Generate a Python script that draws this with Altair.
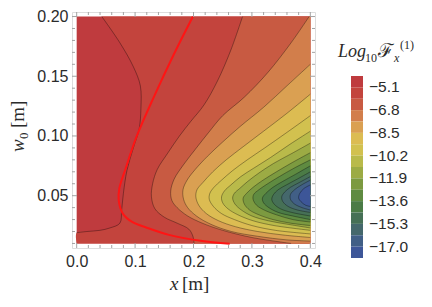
import altair as alt
import pandas as pd

# ---------------- data ----------------
levels = [-5.1, -5.95, -6.8, -7.65, -8.5, -9.35, -10.2, -11.05, -11.9,
          -12.75, -13.6, -14.45, -15.3, -16.15, -17.0]
band_top = -4.25
band_bottom = -17.85
band_colors = ["#bf3b3e", "#c3443d", "#c85a42", "#d27e4b", "#daa052", "#dcbc52",
               "#d2c14f", "#b9ba4a", "#9cab44", "#7c9a40", "#5f8b41", "#4b7b46",
               "#467056", "#45686c", "#415f86", "#3d5698"]
legend_values = [-5.1, -6.8, -8.5, -10.2, -11.9, -13.6, -15.3, -17.0]

x_ticks = [0.0, 0.1, 0.2, 0.3, 0.4]
y_ticks = [0.05, 0.10, 0.15, 0.20]
x_minor = [0.02, 0.04, 0.06, 0.08, 0.12, 0.14, 0.16, 0.18, 0.22, 0.24, 0.26,
           0.28, 0.32, 0.34, 0.36, 0.38]
y_minor = [0.01, 0.02, 0.03, 0.04, 0.06, 0.07, 0.08, 0.09, 0.11, 0.12, 0.13,
           0.14, 0.16, 0.17, 0.18, 0.19]
x_range = [0.0, 0.4]
w0_range = [0.01, 0.2]

c1_x = [0.043, 0.074, 0.097, 0.109, 0.110, 0.107, 0.097, 0.086, 0.080, 0.077, 0.074, 0.057, 0.040, 0.017, 0.000]
c1_w = [0.200, 0.178, 0.158, 0.142, 0.123, 0.106, 0.090, 0.071, 0.052, 0.038, 0.027, 0.023, 0.021, 0.020, 0.019]
c2_x = [0.284, 0.264, 0.241, 0.218, 0.195, 0.176, 0.155, 0.138, 0.130, 0.128, 0.134, 0.150, 0.172, 0.192, 0.199, 0.201]
c2_w = [0.200, 0.172, 0.146, 0.126, 0.112, 0.100, 0.085, 0.072, 0.060, 0.049, 0.039, 0.032, 0.027, 0.022, 0.016, 0.010]
c3_x = [0.398, 0.367, 0.327, 0.287, 0.250, 0.226, 0.205, 0.183, 0.167, 0.161, 0.163, 0.172, 0.190, 0.215, 0.250, 0.300, 0.367]
c3_w = [0.200, 0.178, 0.153, 0.1325, 0.117, 0.103, 0.090, 0.076, 0.064, 0.054, 0.046, 0.040, 0.033, 0.027, 0.021, 0.015, 0.010]
c4_x = [0.400, 0.360, 0.320, 0.280, 0.250, 0.224, 0.203, 0.189, 0.182, 0.183, 0.190, 0.205, 0.230, 0.265, 0.310, 0.360, 0.400]
c4_w = [0.160, 0.142, 0.124, 0.108, 0.095, 0.083, 0.072, 0.063, 0.055, 0.047, 0.040, 0.033, 0.026, 0.020, 0.016, 0.013, 0.012]
c5_x = [0.400, 0.360, 0.320, 0.285, 0.256, 0.233, 0.216, 0.206, 0.204, 0.209, 0.222, 0.243, 0.272, 0.310, 0.355, 0.400]
c5_w = [0.135, 0.119, 0.104, 0.091, 0.080, 0.070, 0.061, 0.055, 0.049, 0.042, 0.035, 0.029, 0.024, 0.020, 0.017, 0.015]
c6_x = [0.400, 0.360, 0.322, 0.292, 0.267, 0.248, 0.235, 0.228, 0.227, 0.234, 0.248, 0.270, 0.300, 0.340, 0.400]
c6_w = [0.117, 0.103, 0.090, 0.080, 0.071, 0.063, 0.057, 0.052, 0.047, 0.041, 0.035, 0.030, 0.025, 0.021, 0.018]
c7_x = [0.400, 0.365, 0.332, 0.303, 0.281, 0.264, 0.253, 0.248, 0.250, 0.259, 0.276, 0.302, 0.338, 0.400]
c7_w = [0.104, 0.093, 0.082, 0.073, 0.066, 0.059, 0.054, 0.049, 0.044, 0.039, 0.034, 0.029, 0.025, 0.021]
c8_x = [0.400, 0.367, 0.337, 0.312, 0.293, 0.279, 0.270, 0.267, 0.271, 0.282, 0.300, 0.328, 0.362, 0.400]
c8_w = [0.094, 0.085, 0.077, 0.069, 0.062, 0.056, 0.052, 0.048, 0.043, 0.038, 0.033, 0.029, 0.026, 0.023]
c9_x = [0.400, 0.370, 0.342, 0.319, 0.302, 0.291, 0.285, 0.287, 0.296, 0.312, 0.336, 0.366, 0.400]
c9_w = [0.086, 0.078, 0.070, 0.063, 0.057, 0.052, 0.048, 0.043, 0.038, 0.034, 0.030, 0.027, 0.025]
c10_x = [0.400, 0.372, 0.347, 0.327, 0.312, 0.303, 0.302, 0.308, 0.321, 0.342, 0.370, 0.400]
c10_w = [0.080, 0.073, 0.066, 0.060, 0.055, 0.051, 0.047, 0.042, 0.038, 0.034, 0.030, 0.028]
c11_x = [0.400, 0.375, 0.353, 0.336, 0.324, 0.318, 0.320, 0.329, 0.345, 0.370, 0.400]
c11_w = [0.075, 0.068, 0.062, 0.057, 0.052, 0.048, 0.044, 0.040, 0.036, 0.033, 0.030]
c12_x = [0.400, 0.378, 0.359, 0.345, 0.337, 0.334, 0.338, 0.349, 0.368, 0.400]
c12_w = [0.070, 0.064, 0.059, 0.055, 0.051, 0.047, 0.043, 0.039, 0.036, 0.033]
c13_x = [0.400, 0.381, 0.366, 0.356, 0.351, 0.353, 0.362, 0.378, 0.400]
c13_w = [0.066, 0.061, 0.057, 0.053, 0.049, 0.045, 0.041, 0.038, 0.036]
c14_x = [0.400, 0.385, 0.373, 0.366, 0.366, 0.373, 0.386, 0.400]
c14_w = [0.063, 0.059, 0.055, 0.051, 0.047, 0.043, 0.040, 0.038]
c15_x = [0.400, 0.389, 0.382, 0.380, 0.384, 0.392, 0.400]
c15_w = [0.059, 0.056, 0.052, 0.048, 0.045, 0.042, 0.041]

red_x = [0.199, 0.166, 0.132, 0.103, 0.084, 0.073, 0.072, 0.079, 0.095, 0.120, 0.158, 0.212, 0.262]
red_w = [0.200, 0.168, 0.1325, 0.100, 0.073, 0.056, 0.046, 0.035, 0.028, 0.0232, 0.0172, 0.0123, 0.0097]

contours_x = [c1_x, c2_x, c3_x, c4_x, c5_x, c6_x, c7_x, c8_x, c9_x, c10_x,
              c11_x, c12_x, c13_x, c14_x, c15_x]
contours_w = [c1_w, c2_w, c3_w, c4_w, c5_w, c6_w, c7_w, c8_w, c9_w, c10_w,
              c11_w, c12_w, c13_w, c14_w, c15_w]

# ---------------- layout / style ----------------
W, H = 243, 236
FRAME = "#a3a3a3"
LABEL = "#2b2b2b"
SERIF = "Liberation Serif"
SANS = "Liberation Sans"

xs = alt.Scale(domain=[-0.008, 0.408], nice=False, zero=False)
ys = alt.Scale(domain=[0.0062, 0.2038], nice=False, zero=False)
x_axis = alt.Axis(values=x_ticks, format=".1f", title=None, domain=False, ticks=False,
                  grid=False, labelPadding=5, labelFontSize=16, labelFont=SANS,
                  labelColor=LABEL)
y_axis = alt.Axis(values=y_ticks, format=".2f", title=None, domain=False, ticks=False,
                  grid=False, labelPadding=4, labelFontSize=16, labelFont=SANS,
                  labelColor=LABEL)


def X(f):
    return alt.X(f, scale=xs, axis=x_axis)


def Y(f):
    return alt.Y(f, scale=ys, axis=y_axis)


layers = []

# base band (highest values)
base_df = pd.DataFrame({"x": [x_range[0]], "x2": [x_range[1]],
                        "w": [w0_range[0]], "w2": [w0_range[1]]})
layers.append(alt.Chart(base_df).mark_rect(color=band_colors[0]).encode(
    x=X("x:Q"), x2="x2:Q", y=Y("w:Q"), y2="w2:Q"))

# filled bands: region to the right of each contour
line_rows = []
for k in range(len(levels)):
    xk = list(contours_x[k])
    wk = list(contours_w[k])
    for a, b in zip(xk, wk):
        line_rows.append({"x": a, "w": b, "level": levels[k]})
    if k == 0:
        xk = xk + [x_range[0]]
        wk = wk + [w0_range[0]]
    df = pd.DataFrame({"x": xk, "w": wk, "xr": [x_range[1]] * len(xk)})
    layers.append(alt.Chart(df).mark_area(
        orient="horizontal", interpolate="catmull-rom", color=band_colors[k + 1]
    ).encode(x=X("x:Q"), x2="xr:Q", y=Y("w:Q")))

# contour lines
lines_df = pd.DataFrame(line_rows)
layers.append(alt.Chart(lines_df).mark_line(
    interpolate="catmull-rom", color="#000000", opacity=0.42, strokeWidth=0.8
).encode(x=X("x:Q"), y=Y("w:Q"), detail="level:N", order=alt.Order("w:Q")))

# red curve
red_df = pd.DataFrame({"x": red_x, "w": red_w})
layers.append(alt.Chart(red_df).mark_line(
    interpolate="catmull-rom", color="#ff1414", strokeWidth=2
).encode(x=X("x:Q"), y=Y("w:Q"), order=alt.Order("w:Q")))


# frame ticks (inward, on all four sides)
def xticks(vals, length):
    df = pd.DataFrame({"t": vals})
    bot = alt.Chart(df).mark_rule(color=FRAME, strokeWidth=1).encode(
        x=X("t:Q"), y=alt.value(H), y2=alt.value(H - length))
    top = alt.Chart(df).mark_rule(color=FRAME, strokeWidth=1).encode(
        x=X("t:Q"), y=alt.value(0), y2=alt.value(length))
    return [bot, top]


def yticks(vals, length):
    df = pd.DataFrame({"t": vals})
    left = alt.Chart(df).mark_rule(color=FRAME, strokeWidth=1).encode(
        y=Y("t:Q"), x=alt.value(0), x2=alt.value(length))
    right = alt.Chart(df).mark_rule(color=FRAME, strokeWidth=1).encode(
        y=Y("t:Q"), x=alt.value(W), x2=alt.value(W - length))
    return [left, right]


layers += xticks(x_ticks, 5) + xticks(x_minor, 3) + yticks(y_ticks, 5) + yticks(y_minor, 3)


def label(text, x, y, size, italic=False, angle=0, font=SERIF, align="left"):
    df = pd.DataFrame({"t": [text]})
    kw = dict(font=font, fontSize=size, color=LABEL, align=align, baseline="alphabetic")
    if italic:
        kw["fontStyle"] = "italic"
    if angle:
        kw["angle"] = angle
    return alt.Chart(df).mark_text(**kw).encode(
        text="t:N", x=alt.value(x), y=alt.value(y))


# axis titles
layers += [
    label("x", 98, 278, 19, italic=True),
    label("[m]", 110, 278, 19),
    label("w", -48, 140, 19, italic=True, angle=270),
    label("0", -44, 127, 13, angle=270),
    label("[m]", -48, 116, 19, angle=270),
]

main = alt.layer(*layers)

# ---------------- colour legend ----------------
lx = alt.Scale(domain=[0, 1], range=[279, 291])
ly = alt.Scale(domain=[band_bottom, band_top], range=[246, 64])
edges = [band_top] + levels + [band_bottom]
band_names = ["b%02d" % i for i in range(len(band_colors))]
bands_df = pd.DataFrame({"hi": edges[:-1], "lo": edges[1:], "b": band_names})
leg_rect = alt.Chart(bands_df).mark_rect().encode(
    x=alt.X(datum=0, scale=lx, axis=None), x2=alt.X2(datum=1),
    y=alt.Y("lo:Q", scale=ly, axis=None), y2="hi:Q",
    color=alt.Color("b:N", scale=alt.Scale(domain=band_names, range=band_colors), legend=None))
leg_lab = alt.Chart(pd.DataFrame({"v": legend_values})).mark_text(
    font=SANS, fontSize=15.5, color=LABEL, align="left", baseline="middle"
).encode(x=alt.X(datum=1.5, scale=lx, axis=None),
         y=alt.Y("v:Q", scale=ly, axis=None),
         text=alt.Text("v:Q", format=".1f"))
leg_title = [
    label("Log", 266, 45, 18, italic=True),
    label("10", 293, 50, 12),
    label("\u2131", 306, 45, 19),
    label("x", 322, 50, 12, italic=True),
    label("(1)", 328, 37, 12),
]
legend = alt.layer(leg_rect, leg_lab, *leg_title)

chart = alt.layer(main, legend).resolve_scale(x="independent", y="independent").properties(
    width=W, height=H,
    autosize=alt.AutoSizeParams(type="none"),
    padding={"left": 64, "top": 4, "right": 107, "bottom": 47},
).configure_view(stroke=FRAME, strokeWidth=1).configure(background="white")

chart.save("out.html", embed_options={"renderer": "svg", "actions": False})
